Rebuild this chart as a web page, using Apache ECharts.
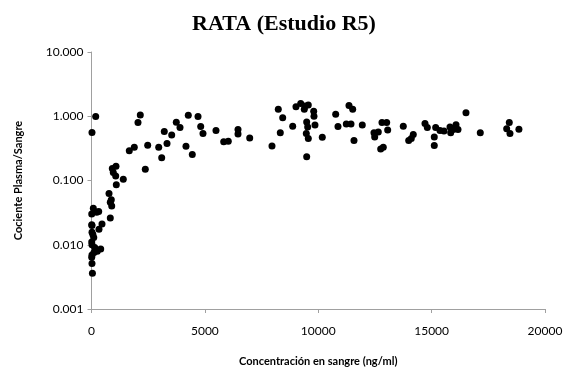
<!DOCTYPE html>
<html>
<head>
<meta charset="utf-8">
<script src="https://cdn.jsdelivr.net/npm/echarts@6/dist/echarts.min.js"></script>
<style>
html,body{margin:0;padding:0;background:#fff;}
#chart{width:568px;height:374px;}
</style>
</head>
<body>
<div id="chart"></div>
<script>
// Blood concentration (ng/ml)
var bloodConc = [
  10, 80, 230, 318, 10, 22, 463, 330, 22, 60, 100, 10, 22, 141, 406, 256, 110, 22, 10, 22, 40,
  772, 829, 891, 829, 873, 917, 1080, 961, 1067, 2373, 1402, 1094,
  185, 22, 2152, 2050, 1667, 1887, 2478, 2964, 3096, 3330, 3210, 3537, 3740, 3903, 4167, 4445,
  4269, 4697, 4816, 4917, 5490, 5830, 6033, 6461, 6461, 6977,
  7960, 8238, 8432, 8326, 8873, 9018, 9226, 9415, 9561, 9385, 9799, 9812, 9490, 9856, 9534,
  9473, 9561, 9490, 10178, 10769, 11356, 11519, 10871, 11237, 11444, 11942, 11576, 12458,
  12648, 12489, 12811, 13018, 13062, 12754, 12868, 13750, 13989,
  14103, 14191, 14707, 14809, 15117, 15117, 15179, 15369, 15545, 15810, 15841, 15955, 16075,
  16163, 16515, 17146, 18425, 18310, 18455, 18850
];
// Plasma/blood ratio
var plasmaBloodRatio = [
  0.030, 0.037, 0.032, 0.033, 0.0205, 0.020, 0.021, 0.0175, 0.0157, 0.0145, 0.013, 0.011, 0.010, 0.0091, 0.0086, 0.0079, 0.0076, 0.0069, 0.0064, 0.0051, 0.0036,
  0.0625, 0.046, 0.040, 0.026, 0.050, 0.154, 0.166, 0.133, 0.118, 0.150, 0.105, 0.086,
  0.99, 0.56, 1.05, 0.80, 0.29, 0.33, 0.355, 0.33, 0.226, 0.375, 0.58, 0.51, 0.81, 0.67, 0.34, 0.255,
  1.04, 0.99, 0.69, 0.54, 0.60, 0.40, 0.41, 0.62, 0.53, 0.46,
  0.344, 1.29, 0.95, 0.556, 0.70, 1.40, 1.58, 1.45, 1.49, 1.29, 1.20, 1.00, 0.815, 0.73, 0.68,
  0.537, 0.45, 0.235, 0.47, 1.07, 1.47, 1.29, 0.69, 0.76, 0.76, 0.73, 0.42, 0.556,
  0.57, 0.475, 0.80, 0.80, 0.61, 0.31, 0.33, 0.70, 0.42,
  0.45, 0.52, 0.77, 0.67, 0.475, 0.35, 0.67, 0.60, 0.59, 0.68, 0.556, 0.62, 0.74,
  0.62, 1.13, 0.556, 0.80, 0.64, 0.54, 0.63
];
var xTicks = [0, 5000, 10000, 15000, 20000];
var xTickLabels = ['0', '5000', '10000', '15000', '20000'];
var yTickLabels = ['0.001', '0.010', '0.100', '1.000', '10.000'];

var points = bloodConc.map(function (x, i) { return [x, plasmaBloodRatio[i]]; });
var chart = echarts.init(document.getElementById('chart'), null, {renderer: 'canvas'});
var axisFont = 'Lato, "Open Sans", sans-serif';
chart.setOption({
  animation: false,
  backgroundColor: '#fff',
  title: {
    text: 'RATA (Estudio R5)',
    left: 'center',
    top: 8,
    textStyle: {fontFamily: '"Liberation Serif", "DejaVu Serif", serif', fontWeight: 'bold', fontSize: 22, color: '#000'}
  },
  grid: {left: 91.5, right: 23, top: 52, bottom: 65},
  xAxis: {
    type: 'value',
    min: xTicks[0], max: xTicks[xTicks.length - 1], interval: xTicks[1] - xTicks[0],
    name: 'Concentración en sangre (ng/ml)',
    nameLocation: 'middle', nameGap: 47,
    nameTextStyle: {fontFamily: axisFont, fontWeight: 'bold', fontSize: 11, color: '#000'},
    axisLine: {onZero: false, lineStyle: {color: '#a0a0a0', width: 1}},
    axisTick: {show: true, inside: false, length: 4, lineStyle: {color: '#a0a0a0'}},
    axisLabel: {
      fontFamily: axisFont, fontSize: 12, color: '#000', margin: 16,
      formatter: function (v) {
        var idx = xTicks.indexOf(v);
        return idx >= 0 ? xTickLabels[idx] : String(v);
      }
    },
    splitLine: {show: false}
  },
  yAxis: {
    type: 'log', logBase: 10, min: 0.001, max: 10,
    name: 'Cociente Plasma/Sangre',
    nameLocation: 'middle', nameGap: 68, nameRotate: 90,
    nameTextStyle: {fontFamily: axisFont, fontWeight: 'bold', fontSize: 11, color: '#000'},
    axisLine: {show: true, lineStyle: {color: '#a0a0a0', width: 1}},
    axisTick: {show: true, inside: false, length: 4, lineStyle: {color: '#a0a0a0'}},
    axisLabel: {
      fontFamily: axisFont, fontSize: 12, color: '#000', margin: 8,
      formatter: function (v) {
        var idx = Math.round(Math.log10(v)) + 3;
        return yTickLabels[idx];
      }
    },
    splitLine: {show: false}
  },
  series: [{
    type: 'scatter',
    data: points,
    symbol: 'circle',
    symbolSize: 7,
    itemStyle: {color: '#000', opacity: 1}
  }]
});
</script>
</body>
</html>
